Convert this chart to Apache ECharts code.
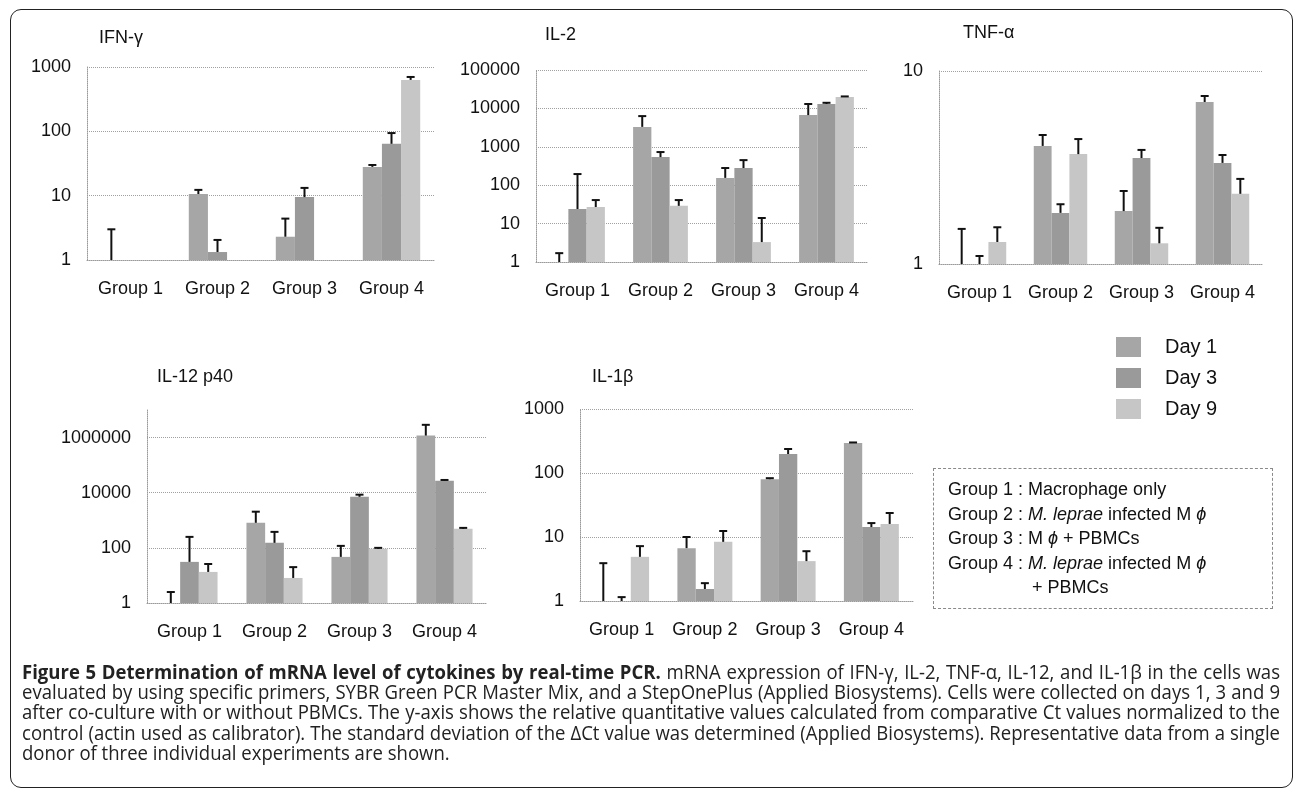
<!DOCTYPE html>
<html>
<head>
<meta charset="utf-8">
<script src="https://cdn.jsdelivr.net/npm/echarts@6/dist/echarts.min.js"></script>
<style>
  html, body { margin: 0; padding: 0; background: #fff; }
  #wrap { position: relative; width: 1296px; height: 792px; overflow: hidden; }
  #chart { position: absolute; left: 0; top: 0; width: 1296px; height: 792px; }
  #frame { position: absolute; left: 10px; top: 9px; width: 1281px; height: 777px; border: 1.5px solid #222; border-radius: 11px; pointer-events: none; }
  #groups { position: absolute; left: 933px; top: 468px; width: 340px; height: 141px; box-sizing: border-box; border: 1px dashed #8a8a8a; padding: 8px 0 0 14px; font-family: "Liberation Sans", Arial, sans-serif; font-size: 18px; line-height: 24.5px; color: #111; }
  #groups div { white-space: nowrap; }
  .cap { position: absolute; left: 22px; width: 2000px; transform-origin: 0 0; font-family: "Open Sans", "Noto Sans", sans-serif; font-size: 20px; line-height: 20px; color: #222; text-align: left; white-space: nowrap; }
  .cap.just { text-align: justify; text-align-last: justify; }
  .cap b { font-weight: 700; }
</style>
</head>
<body>
<div id="wrap">
  <div id="chart"></div>
  <div id="frame"></div>
  <div id="groups">
    <div>Group 1 : Macrophage only</div>
    <div>Group 2 : <i>M. leprae</i> infected M <i>ϕ</i></div>
    <div>Group 3 : M <i>ϕ</i> + PBMCs</div>
    <div>Group 4 : <i>M. leprae</i> infected M <i>ϕ</i></div>
    <div style="padding-left:84px">+ PBMCs</div>
  </div>
  <div class="cap" data-j="1" style="top:662px"><span><b>Figure 5 Determination of mRNA level of cytokines by real-time PCR.</b> mRNA expression of IFN-γ, IL-2, TNF-α, IL-12, and IL-1β in the cells was</span></div>
  <div class="cap" data-j="1" style="top:682px"><span>evaluated by using specific primers, SYBR Green PCR Master Mix, and a StepOnePlus (Applied Biosystems). Cells were collected on days 1, 3 and 9</span></div>
  <div class="cap" data-j="1" style="top:702px"><span>after co-culture with or without PBMCs. The y-axis shows the relative quantitative values calculated from comparative Ct values normalized to the</span></div>
  <div class="cap" data-j="1" style="top:723px"><span>control (actin used as calibrator). The standard deviation of the ΔCt value was determined (Applied Biosystems). Representative data from a single</span></div>
  <div class="cap" data-j="0" style="top:743px"><span>donor of three individual experiments are shown.</span></div>
</div>
<script>
// ---- data ----
const categories = ['Group 1', 'Group 2', 'Group 3', 'Group 4'];
const days = ['Day 1', 'Day 3', 'Day 9'];
const panelTitles = ['IFN-γ', 'IL-2', 'TNF-α', 'IL-12 p40', 'IL-1β'];

// IFN-γ
const ifnDay1 = [1, 10.6, 2.3, 28];
const ifnDay3 = [1, 1.33, 9.5, 64];
const ifnDay9 = [1, 1, 1, 630];
const ifnDay1Err = [3.0, 12.3, 4.4, 30];
const ifnDay3Err = [null, 2.05, 13.2, 94];
const ifnDay9Err = [null, null, null, 700];

// IL-2
const il2Day1 = [1, 3300, 155, 6700];
const il2Day3 = [24, 540, 280, 13000];
const il2Day9 = [27, 29, 3.3, 19800];
const il2Day1Err = [1.7, 6300, 280, 13000];
const il2Day3Err = [195, 730, 450, 14000];
const il2Day9Err = [41, 41, 14, 20500];

// TNF-α
const tnfDay1 = [1, 4.09, 1.88, 6.91];
const tnfDay3 = [1, 1.84, 3.54, 3.34];
const tnfDay9 = [1.30, 3.71, 1.28, 2.31];
const tnfDay1Err = [1.52, 4.66, 2.39, 7.42];
const tnfDay3Err = [1.1, 2.04, 3.90, 3.67];
const tnfDay9Err = [1.55, 4.44, 1.54, 2.76];

// IL-12 p40
const il12Day1 = [1, 810, 47, 1180000];
const il12Day3 = [31, 152, 7100, 27000];
const il12Day9 = [13.4, 8.1, 92, 490];
const il12Day1Err = [2.5, 2050, 118, 2900000];
const il12Day3Err = [250, 380, 8500, 29000];
const il12Day9Err = [26, 20, 100, 530];

// IL-1β
const il1bDay1 = [1, 6.7, 80, 295];
const il1bDay3 = [1, 1.54, 198, 14.3];
const il1bDay9 = [4.9, 8.4, 4.2, 16];
const il1bDay1Err = [3.9, 10, 83, 300];
const il1bDay3Err = [1.15, 1.9, 237, 16.5];
const il1bDay9Err = [7.2, 12.4, 6.0, 23.7];

// axis ranges (log)
const axisMax = [1000, 100000, 10, 10000000, 1000];
const axisLogBase = [10, 10, 10, 100, 10];

const panelValues = [
  [ifnDay1, ifnDay3, ifnDay9],
  [il2Day1, il2Day3, il2Day9],
  [tnfDay1, tnfDay3, tnfDay9],
  [il12Day1, il12Day3, il12Day9],
  [il1bDay1, il1bDay3, il1bDay9]
];
const panelErrors = [
  [ifnDay1Err, ifnDay3Err, ifnDay9Err],
  [il2Day1Err, il2Day3Err, il2Day9Err],
  [tnfDay1Err, tnfDay3Err, tnfDay9Err],
  [il12Day1Err, il12Day3Err, il12Day9Err],
  [il1bDay1Err, il1bDay3Err, il1bDay9Err]
];

// ---- caption fitting (condensed look) ----
(function () {
  const caps = document.querySelectorAll('.cap');
  let maxW = 0;
  caps.forEach(function (c) { const w = c.firstElementChild.offsetWidth; if (w > maxW) maxW = w; });
  const target = 1258;
  const s = Math.min(1, (target - 4) / maxW);
  caps.forEach(function (c) {
    c.style.width = (target / s) + 'px';
    c.style.transform = 'scaleX(' + s + ')';
    if (c.getAttribute('data-j') === '1') c.classList.add('just');
  });
})();

// ---- layout / style ----
const FONT = '"Liberation Sans", Arial, sans-serif';
const dayColors = ['#a6a6a6', '#9a9a9a', '#c6c6c6'];
const GAP = 0.34;
const grids = [
  { left: 87, top: 67, width: 348, height: 193 },
  { left: 536, top: 70, width: 332, height: 192 },
  { left: 939, top: 71, width: 324, height: 193 },
  { left: 147, top: 410, width: 340, height: 193 },
  { left: 580, top: 409, width: 333, height: 192 }
];
const titlePos = [[99, 29], [545, 26], [963, 24], [157, 368], [592, 368]];

const chart = echarts.init(document.getElementById('chart'));

const xAxes = [], yAxes = [], series = [], titles = [];
for (let p = 0; p < 5; p++) {
  titles.push({
    text: panelTitles[p], left: titlePos[p][0], top: titlePos[p][1], padding: 0,
    textStyle: { fontFamily: FONT, fontSize: 18, fontWeight: 'normal', color: '#111' }
  });
  xAxes.push({
    type: 'category', gridIndex: p, data: categories,
    axisLine: { show: true, lineStyle: { type: 'dotted', color: '#9a9a9a', width: 1 } },
    axisTick: { show: false },
    axisLabel: { fontFamily: FONT, fontSize: 18, color: '#111', margin: 20, interval: 0 }
  });
  const isIL12 = p === 3;
  yAxes.push({
    type: 'log', gridIndex: p, logBase: axisLogBase[p], min: 1, max: axisMax[p],
    axisLine: { show: true, lineStyle: { type: 'dotted', color: '#9a9a9a', width: 1 } },
    axisTick: { show: false },
    splitLine: { show: true, showMaxLine: !isIL12, lineStyle: { type: 'dotted', color: '#a0a0a0', width: 1 } },
    axisLabel: {
      fontFamily: FONT, fontSize: 18, color: '#111', margin: 16,
      showMinLabel: true, showMaxLabel: !isIL12,
      formatter: function (v) { return String(Math.round(v)); }
    }
  });
  for (let d = 0; d < 3; d++) {
    series.push({
      type: 'bar', name: days[d], xAxisIndex: p, yAxisIndex: p,
      data: panelValues[p][d],
      barGap: '0%', barCategoryGap: (GAP * 100) + '%',
      itemStyle: { color: dayColors[d] },
      emphasis: { disabled: true },
      silent: true
    });
  }
  const errData = [];
  for (let d = 0; d < 3; d++) {
    for (let c = 0; c < 4; c++) {
      const e = panelErrors[p][d][c];
      if (e != null) errData.push([c, panelValues[p][d][c], e, d]);
    }
  }
  series.push({
    type: 'custom', name: 'err' + p, xAxisIndex: p, yAxisIndex: p,
    data: errData, silent: true, z: 5,
    encode: { x: 0, y: [1, 2] },
    renderItem: function (params, api) {
      const ci = api.value(0), v = api.value(1), e = api.value(2), d = api.value(3);
      const base = api.coord([ci, v]);
      const top = api.coord([ci, e]);
      const band = api.coord([1, v])[0] - api.coord([0, v])[0];
      const bw = band * (1 - GAP) / 3;
      const x = base[0] + (d - 1) * bw;
      return {
        type: 'group',
        children: [
          { type: 'line', shape: { x1: x, y1: base[1], x2: x, y2: top[1] }, style: { stroke: '#111', lineWidth: 2 } },
          { type: 'line', shape: { x1: x - 4, y1: top[1], x2: x + 4, y2: top[1] }, style: { stroke: '#111', lineWidth: 2 } }
        ]
      };
    }
  });
}

chart.setOption({
  backgroundColor: 'transparent',
  animation: false,
  title: titles,
  legend: {
    data: days, orient: 'vertical', left: 1116, top: 337, padding: 0,
    itemWidth: 25, itemHeight: 20, itemGap: 11, icon: 'rect', selectedMode: false,
    textStyle: { fontFamily: FONT, fontSize: 20, color: '#111', padding: [0, 0, 0, 19] }
  },
  grid: grids,
  xAxis: xAxes,
  yAxis: yAxes,
  series: series
});
</script>
</body>
</html>
